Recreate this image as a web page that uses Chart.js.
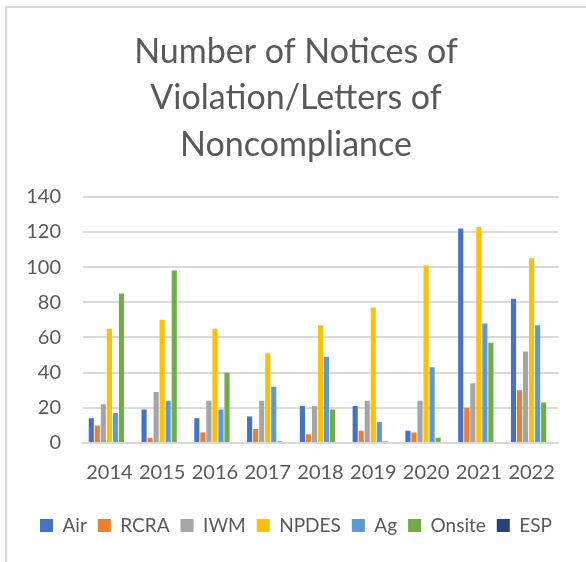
<!DOCTYPE html>
<html>
<head>
<meta charset="utf-8">
<script src="https://cdn.jsdelivr.net/npm/chart.js@4.4.1/dist/chart.umd.min.js"></script>
<style>
  html, body { margin: 0; padding: 0; background: #ffffff; }
  #frame { position: absolute; left: 5px; top: 6px; width: 640px; height: 600px; border: 2px solid #d9d9d9; box-sizing: border-box; }
  #wrap { position: absolute; left: 0; top: 0; width: 586px; height: 562px; }
</style>
</head>
<body>
<div id="frame"></div>
<div id="wrap"><canvas id="c" width="586" height="562"></canvas></div>
<script>
const categories = ["2014", "2015", "2016", "2017", "2018", "2019", "2020", "2021", "2022"];
const air    = [14, 19, 14, 15, 21, 21, 7, 122, 82];
const rcra   = [10, 3, 6, 8, 5, 7, 6, 20, 30];
const iwm    = [22, 29, 24, 24, 21, 24, 24, 34, 52];
const npdes  = [65, 70, 65, 51, 67, 77, 101, 123, 105];
const ag     = [17, 24, 19, 32, 49, 12, 43, 68, 67];
const onsite = [85, 98, 40, 1, 19, 1, 3, 57, 23];
const esp    = [0, 0, 0, 0, 0, 0, 0, 0, 0];
const yTicks = [0, 20, 40, 60, 80, 100, 120, 140];
const titleLines = ["Number of Notices of", "Violation/Letters of", "Noncompliance"];

const seriesNames = ["Air", "RCRA", "IWM", "NPDES", "Ag", "Onsite", "ESP"];
const seriesData = [air, rcra, iwm, npdes, ag, onsite, esp];
const seriesColors = ["#4472C4", "#ED7D31", "#A5A5A5", "#FFC000", "#5B9BD5", "#70AD47", "#264478"];

const FONT = "Lato, 'Open Sans', sans-serif";
const TXT = "#595959";

new Chart(document.getElementById("c"), {
  type: "bar",
  data: {
    labels: categories,
    datasets: seriesNames.map((n, i) => ({
      label: n,
      data: seriesData[i],
      backgroundColor: seriesColors[i],
      borderWidth: 0,
      categoryPercentage: 0.8,
      barPercentage: 0.85,
      yAxisID: "y"
    }))
  },
  options: {
    responsive: false,
    animation: false,
    layout: { padding: { left: 6, right: 0, top: 0, bottom: 17 } },
    plugins: {
      title: {
        display: true,
        text: titleLines,
        color: TXT,
        font: { family: FONT, size: 34, weight: "normal", lineHeight: 1.36 },
        padding: { top: 29, bottom: 29 }
      },
      legend: {
        position: "bottom",
        labels: {
          color: TXT,
          font: { family: FONT, size: 19 },
          boxWidth: 13,
          boxHeight: 13,
          padding: 11
        }
      },
      tooltip: { enabled: false }
    },
    scales: {
      x: {
        grid: { display: false },
        border: { display: true, color: "#d9d9d9", width: 2 },
        ticks: { color: TXT, font: { family: FONT, size: 20 }, padding: 10, maxRotation: 0 },
        afterFit: (s) => { s.height = 62; }
      },
      y: {
        min: 0,
        max: 140,
        afterBuildTicks: (s) => { s.ticks = yTicks.map(v => ({ value: v })); },
        afterFit: (s) => { s.width = 77; },
        grid: { color: "#d9d9d9", lineWidth: 2, drawTicks: false },
        border: { display: false },
        ticks: { color: TXT, font: { family: FONT, size: 20 }, padding: 22 }
      },
      yPad: {
        type: "linear",
        position: "right",
        min: 0,
        max: 1,
        grid: { display: false, drawTicks: false },
        border: { display: false },
        ticks: { display: false },
        afterFit: (s) => { s.width = 28; }
      }
    }
  }
});
</script>
</body>
</html>
